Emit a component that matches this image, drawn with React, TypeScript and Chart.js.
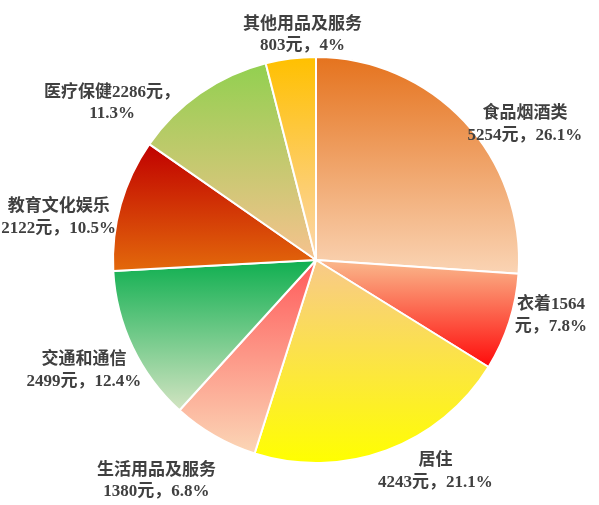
import { useEffect, useRef } from "react";
import { Chart, registerables } from "chart.js";

Chart.register(...registerables);

// 消费支出构成（元）
const categories = ["食品烟酒类", "衣着", "居住", "生活用品及服务", "交通和通信", "教育文化娱乐", "医疗保健", "其他用品及服务"];
const amounts = [5254, 1564, 4243, 1380, 2499, 2122, 2286, 803];
const percents = ["26.1", "7.8", "21.1", "6.8", "12.4", "10.5", "11.3", "4"];
// where each label wraps: after the name, after the amount, or after the comma
const labelBreaks = ["name", "amount", "name", "name", "name", "name", "comma", "name"];

// gradient top / bottom colours per slice
const topColors = ["#E5731E", "#FAB98C", "#F8C98A", "#FF5A5A", "#0FAF50", "#C00000", "#92D050", "#FFC000"];
const bottomColors = ["#FAD4B4", "#FF0A0A", "#FFFF00", "#FBD6B6", "#D3E4C2", "#E3690B", "#F6C28E", "#FCD6AC"];

// label nudges from the radial anchor (px)
const labelNudges: [number, number][] = [
  [31, 31], [3, -19], [35, -17], [-38, 10], [-12, 6], [-23, 24], [-65, 43], [17, 17],
];

const RADIUS = 203;
const LABEL_FONT = 'bold 17px "Liberation Serif", "Noto Sans CJK SC", serif';

function sliceAngles(i: number) {
  const total = amounts.reduce((a, b) => a + b, 0);
  const before = amounts.slice(0, i).reduce((a, b) => a + b, 0);
  const start = (before / total) * Math.PI * 2 - Math.PI / 2;
  const end = ((before + amounts[i]) / total) * Math.PI * 2 - Math.PI / 2;
  return { start, end };
}

function labelLines(i: number): string[] {
  const name = categories[i];
  const amt = `${amounts[i]}`;
  const pct = `${percents[i]}%`;
  switch (labelBreaks[i]) {
    case "amount":
      return [name + amt, `元，${pct}`];
    case "comma":
      return [`${name}${amt}元，`, pct];
    default:
      return [name, `${amt}元，${pct}`];
  }
}

const labelPlugin = {
  id: "sliceLabels",
  afterDatasetsDraw(chart: Chart) {
    const meta = chart.getDatasetMeta(0);
    const ctx = chart.ctx;
    ctx.save();
    ctx.font = LABEL_FONT;
    ctx.fillStyle = "#404040";
    ctx.textAlign = "center";
    ctx.textBaseline = "middle";
    meta.data.forEach((arc: any, i: number) => {
      const { x, y, outerRadius } = arc.getProps(["x", "y", "outerRadius"], true);
      const mid = (arc.startAngle + arc.endAngle) / 2;
      const d = outerRadius * 1.2;
      const ax = x + Math.cos(mid) * d + labelNudges[i][0];
      const ay = y + Math.sin(mid) * d + labelNudges[i][1];
      const lines = labelLines(i);
      const lh = 21.5;
      lines.forEach((line, k) => {
        ctx.fillText(line, ax, ay + (k - (lines.length - 1) / 2) * lh);
      });
    });
    ctx.restore();
  },
};

export default function App() {
  const canvasRef = useRef<HTMLCanvasElement>(null);
  const chartRef = useRef<Chart | null>(null);

  useEffect(() => {
    if (!canvasRef.current) return;
    const ctx = canvasRef.current.getContext("2d");
    if (!ctx) return;

    chartRef.current = new Chart(ctx, {
      type: "pie",
      data: {
        labels: categories,
        datasets: [
          {
            data: amounts,
            borderColor: "#ffffff",
            borderWidth: 2,
            backgroundColor: (c: any) => {
              const i = c.dataIndex;
              if (i === undefined) return topColors[0];
              const area = c.chart.chartArea;
              if (!area) return topColors[i];
              const cy = (area.top + area.bottom) / 2;
              const { start, end } = sliceAngles(i);
              const ys = [cy, cy + Math.sin(start) * RADIUS, cy + Math.sin(end) * RADIUS];
              const eps = 1e-6;
              if (start <= -Math.PI / 2 + eps || end >= (3 * Math.PI) / 2 - eps) ys.push(cy - RADIUS);
              if (start <= Math.PI / 2 && end >= Math.PI / 2) ys.push(cy + RADIUS);
              const y0 = Math.min(...ys);
              const y1 = Math.max(...ys);
              const g = c.chart.ctx.createLinearGradient(0, y0, 0, y1);
              g.addColorStop(0, topColors[i]);
              g.addColorStop(1, bottomColors[i]);
              return g;
            },
          },
        ],
      },
      options: {
        responsive: true,
        maintainAspectRatio: false,
        animation: false,
        events: [],
        radius: RADIUS,
        layout: { padding: { left: 33, right: 0, top: 15, bottom: 0 } },
        plugins: {
          legend: { display: false },
          tooltip: { enabled: false },
        },
      },
      plugins: [labelPlugin],
    });

    return () => {
      if (chartRef.current) {
        chartRef.current.destroy();
        chartRef.current = null;
      }
    };
  }, []);

  return (
    <div style={{ position: "fixed", left: 0, top: 0, width: 599, height: 505, background: "#fff" }}>
      <canvas ref={canvasRef}></canvas>
    </div>
  );
}
